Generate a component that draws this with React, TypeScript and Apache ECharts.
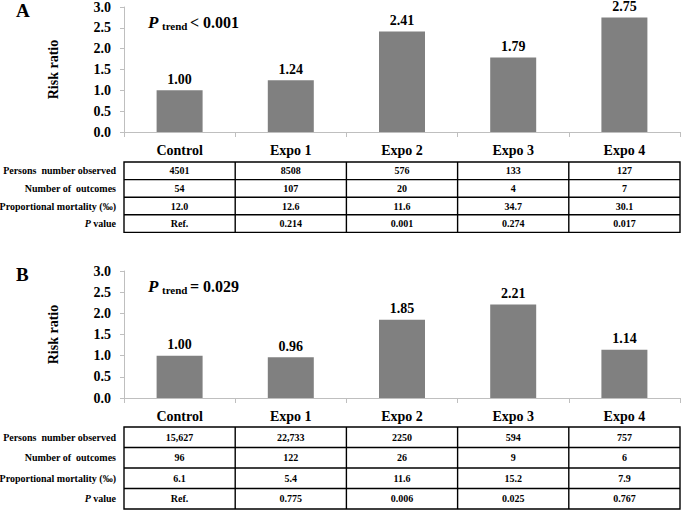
import React, { useEffect, useRef } from "react";
import * as echarts from "echarts";

const categories = ["Control", "Expo 1", "Expo 2", "Expo 3", "Expo 4"];
const riskA = [1.0, 1.24, 2.41, 1.79, 2.75];
const riskB = [1.0, 0.96, 1.85, 2.21, 1.14];
const yTicks = [0, 0.5, 1.0, 1.5, 2.0, 2.5, 3.0];

const rowLabels = [
  "Persons  number observed",
  "Number of  outcomes",
  "Proportional mortality (\u2030)",
  "{i|P} value",
];

const personsA = ["4501", "8508", "576", "133", "127"];
const outcomesA = ["54", "107", "20", "4", "7"];
const mortalityA = ["12.0", "12.6", "11.6", "34.7", "30.1"];
const pValueA = ["Ref.", "0.214", "0.001", "0.274", "0.017"];

const personsB = ["15,627", "22,733", "2250", "594", "757"];
const outcomesB = ["96", "122", "26", "9", "6"];
const mortalityB = ["6.1", "5.4", "11.6", "15.2", "7.9"];
const pValueB = ["Ref.", "0.775", "0.006", "0.025", "0.767"];

const panelLabels = ["A", "B"];
const pTrendA = "< 0.001";
const pTrendB = "= 0.029";

const FONT = "Liberation Serif";
const W = 685;
const H = 512;
const GRID_LEFT = 124;
const GRID_RIGHT_X = 680;

export default function App() {
  const ref = useRef<HTMLDivElement>(null);

  useEffect(() => {
    if (!ref.current) return;
    const chart = echarts.init(ref.current, undefined, { renderer: "svg", width: W, height: H });

    const grids = [
      { top: 7, height: 125 },
      { top: 271, height: 127 },
    ];
    const tables = [
      [personsA, outcomesA, mortalityA, pValueA],
      [personsB, outcomesB, mortalityB, pValueB],
    ];
    const tableTops = [162, 427];
    const rowHs = [17.6, 20.5];
    const colW = (GRID_RIGHT_X - GRID_LEFT) / categories.length;

    const txt = (text: string, x: number, y: number, size: number, opts: any = {}) => ({
      type: "text",
      x,
      y,
      style: {
        text,
        fontFamily: FONT,
        fontSize: size,
        fontWeight: "bold",
        fontStyle: opts.italic ? "italic" : "normal",
        fill: "#000",
        align: opts.align || "center",
        verticalAlign: opts.va || "middle",
        rich: opts.rich,
      },
    });

    const graphic: any[] = [];
    [0, 1].forEach((k) => {
      const top = grids[k].top;
      graphic.push(txt(panelLabels[k], 16, top - 6, 19, { align: "left", va: "top" }));
      graphic.push(txt("P", 148, top + 15, 17, { align: "left", italic: true }));
      graphic.push(txt("trend", 162, top + 19, 11, { align: "left" }));
      graphic.push(txt(k === 0 ? pTrendA : pTrendB, 190, top + 15, 16, { align: "left" }));

      const tTop = tableTops[k];
      const rowH = rowHs[k];
      const tH = rowH * 4;
      graphic.push({
        type: "rect",
        shape: { x: GRID_LEFT, y: tTop, width: GRID_RIGHT_X - GRID_LEFT, height: tH },
        style: { fill: "none", stroke: "#000", lineWidth: 1.4 },
      });
      for (let r = 1; r < 4; r++) {
        graphic.push({
          type: "line",
          shape: { x1: GRID_LEFT, y1: tTop + r * rowH, x2: GRID_RIGHT_X, y2: tTop + r * rowH },
          style: { stroke: "#000", lineWidth: 1.4 },
        });
      }
      for (let c = 1; c < categories.length; c++) {
        graphic.push({
          type: "line",
          shape: { x1: GRID_LEFT + c * colW, y1: tTop, x2: GRID_LEFT + c * colW, y2: tTop + tH },
          style: { stroke: "#000", lineWidth: 1.4 },
        });
      }
      rowLabels.forEach((lab, r) => {
        graphic.push(
          txt(lab, 116, tTop + r * rowH + rowH / 2, 10, {
            align: "right",
            rich: { i: { fontStyle: "italic", fontWeight: "bold", fontSize: 10, fontFamily: FONT, fill: "#000" } },
          })
        );
      });
      tables[k].forEach((row, r) => {
        row.forEach((val, c) => {
          graphic.push(txt(val, GRID_LEFT + c * colW + colW / 2, tTop + r * rowH + rowH / 2, 10));
        });
      });
    });

    const axisGrey = "#bfbfbf";
    const mkX = (gi: number) => ({
      type: "category",
      gridIndex: gi,
      data: categories,
      axisLine: { lineStyle: { color: axisGrey, width: 1 } },
      axisTick: { show: true, length: 5, lineStyle: { color: axisGrey } },
      axisLabel: { color: "#000", fontWeight: "bold", fontSize: 14, fontFamily: FONT, margin: 11 },
    });
    const mkY = (gi: number) => ({
      type: "value",
      gridIndex: gi,
      min: yTicks[0],
      max: yTicks[yTicks.length - 1],
      interval: 0.5,
      name: "Risk ratio",
      nameLocation: "middle",
      nameRotate: 90,
      nameGap: 64,
      nameTextStyle: { color: "#000", fontWeight: "bold", fontSize: 14, fontFamily: FONT },
      axisLine: { show: true, lineStyle: { color: axisGrey, width: 1 } },
      axisTick: { show: true, length: 4, lineStyle: { color: axisGrey } },
      splitLine: { show: false },
      axisLabel: {
        color: "#000",
        fontWeight: "bold",
        fontSize: 14,
        fontFamily: FONT,
        margin: 13,
        formatter: (v: number) => v.toFixed(1),
      },
    });
    const mkSeries = (gi: number, data: number[]) => ({
      type: "bar",
      xAxisIndex: gi,
      yAxisIndex: gi,
      data,
      barWidth: 46,
      itemStyle: { color: "#808080" },
      label: {
        show: true,
        position: "top",
        distance: 4,
        color: "#000",
        fontWeight: "bold",
        fontSize: 14,
        fontFamily: FONT,
        formatter: (p: any) => Number(p.value).toFixed(2),
      },
    });

    chart.setOption({
      animation: false,
      backgroundColor: "#fff",
      textStyle: { fontFamily: FONT },
      grid: grids.map((g) => ({ left: GRID_LEFT, right: W - GRID_RIGHT_X, top: g.top, height: g.height })),
      xAxis: [mkX(0), mkX(1)],
      yAxis: [mkY(0), mkY(1)],
      series: [mkSeries(0, riskA), mkSeries(1, riskB)],
      graphic,
    });

    return () => chart.dispose();
  }, []);

  return <div ref={ref} style={{ position: "fixed", left: 0, top: 0, width: W, height: H }} />;
}
